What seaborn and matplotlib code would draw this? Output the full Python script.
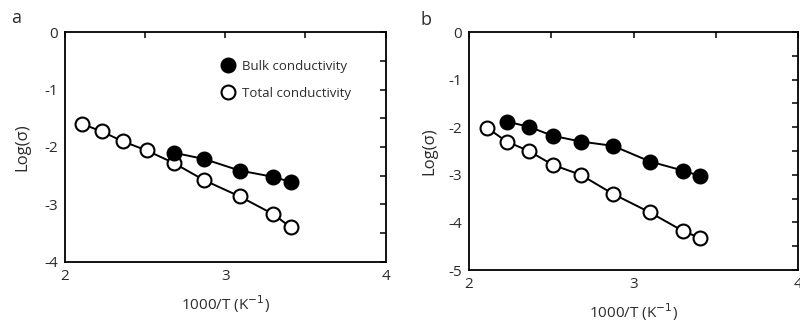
import matplotlib
matplotlib.use("Agg")
import matplotlib.pyplot as plt
from matplotlib.ticker import MultipleLocator
import seaborn as sns
import pandas as pd

sns.set_theme(style="white")
plt.rcParams["font.family"] = ["Open Sans", "DejaVu Sans"]

# Panel a: 1000/T values and log conductivities
a_x_total = [2.11, 2.23, 2.36, 2.51, 2.68, 2.87, 3.09, 3.30, 3.41]
a_total = [-1.60, -1.73, -1.90, -2.06, -2.28, -2.58, -2.86, -3.17, -3.40]
a_x_bulk = [2.68, 2.87, 3.09, 3.30, 3.41]
a_bulk = [-2.10, -2.21, -2.41, -2.52, -2.61]

# Panel b
b_x_total = [2.11, 2.23, 2.365, 2.51, 2.68, 2.875, 3.10, 3.30, 3.40]
b_total = [-2.01, -2.30, -2.50, -2.79, -3.00, -3.40, -3.79, -4.18, -4.32]
b_x_bulk = [2.23, 2.365, 2.51, 2.68, 2.875, 3.10, 3.30, 3.40]
b_bulk = [-1.88, -1.99, -2.18, -2.30, -2.39, -2.72, -2.91, -3.02]

series_names = ["Bulk conductivity", "Total conductivity"]
panel_labels = ["a", "b"]

fig = plt.figure(figsize=(8.0, 3.27), dpi=100)
ax_a = fig.add_axes([0.081, 0.199, 0.401, 0.703])
ax_b = fig.add_axes([0.586, 0.174, 0.412, 0.728])

text_color = "#2b2b2b"


def draw_panel(ax, xt, yt, xb, yb, ylim, ypad):
    total = pd.DataFrame({"x": xt, "y": yt})
    bulk = pd.DataFrame({"x": xb, "y": yb})
    sns.lineplot(data=total, x="x", y="y", ax=ax, color="black", lw=1.4,
                 marker="o", markersize=10, markerfacecolor="white",
                 markeredgecolor="black", markeredgewidth=1.5,
                 label=series_names[1], sort=False)
    sns.lineplot(data=bulk, x="x", y="y", ax=ax, color="black", lw=1.4,
                 marker="o", markersize=10, markerfacecolor="black",
                 markeredgecolor="black", markeredgewidth=1.5,
                 label=series_names[0], sort=False)
    ax.set_xlim(2, 4)
    ax.set_ylim(*ylim)
    ax.xaxis.set_major_locator(MultipleLocator(1))
    ax.xaxis.set_minor_locator(MultipleLocator(0.5))
    ax.yaxis.set_major_locator(MultipleLocator(1))
    ax.yaxis.set_minor_locator(MultipleLocator(0.5))
    ax.tick_params(which="both", direction="in", top=True, right=True,
                   labelsize=11, colors="black", labelcolor=text_color)
    ax.tick_params(which="major", length=4, width=1.1, pad=5)
    ax.tick_params(which="minor", length=4, width=1.1)
    fmt = plt.FuncFormatter(lambda v, p: f"{v:.0f}".replace("\u2212", "-"))
    ax.xaxis.set_major_formatter(fmt)
    ax.yaxis.set_major_formatter(fmt)
    for s in ax.spines.values():
        s.set_color("black")
        s.set_linewidth(1.3)
    ax.set_xlabel("1000/T (K$^{-1}$)", fontsize=11, color=text_color, labelpad=7)
    ax.set_ylabel("Log(\u03c3)", fontsize=12, color=text_color, labelpad=ypad)


draw_panel(ax_a, a_x_total, a_total, a_x_bulk, a_bulk, (-4, 0), 10)
draw_panel(ax_b, b_x_total, b_total, b_x_bulk, b_bulk, (-5, 0), 8)

# Legend only on panel a, bulk first
handles, labels = ax_a.get_legend_handles_labels()
order = [labels.index(n) for n in series_names]
ax_a.legend([handles[i] for i in order], [labels[i] for i in order],
            loc="upper right", bbox_to_anchor=(0.93, 0.93), frameon=False,
            fontsize=9.5, handlelength=0.8, handletextpad=0.7,
            labelspacing=1.05, labelcolor=text_color)
for line in ax_a.get_legend().get_lines():
    line.set_linestyle("none")
ax_b.get_legend().remove()

fig.text(0.014, 0.93, panel_labels[0], fontsize=13, color=text_color)
fig.text(0.526, 0.925, panel_labels[1], fontsize=13, color=text_color)

fig.savefig("out.png", dpi=100)
